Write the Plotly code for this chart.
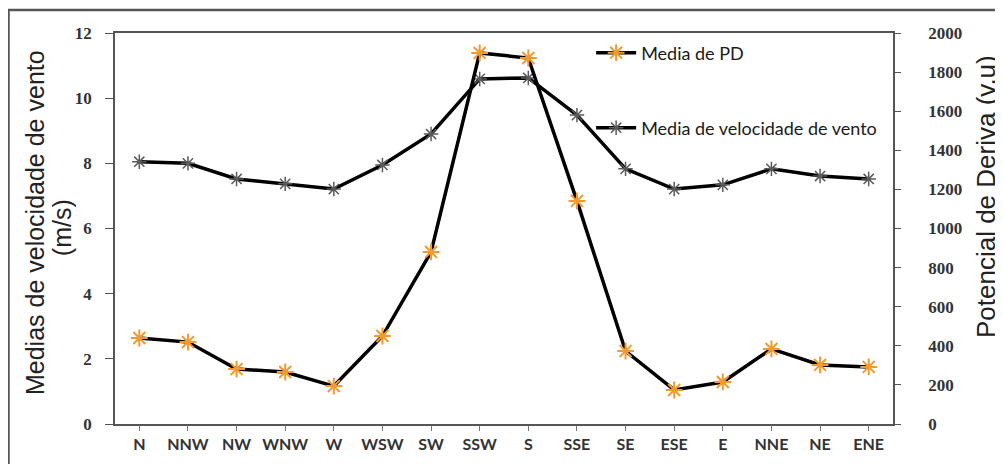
import plotly.graph_objects as go

directions = ["N", "NNW", "NW", "WNW", "W", "WSW", "SW", "SSW", "S",
              "SSE", "SE", "ESE", "E", "NNE", "NE", "ENE"]
wind_speed = [8.05, 8.0, 7.52, 7.37, 7.21, 7.95, 8.9, 10.59, 10.62,
              9.48, 7.83, 7.21, 7.34, 7.83, 7.61, 7.52]
drift_potential = [440, 419, 281, 266, 194, 450, 880, 1898, 1872,
                   1141, 373, 174, 215, 384, 302, 292]

y_ticks_left = [0, 2, 4, 6, 8, 10, 12]
y_ticks_right = [0, 200, 400, 600, 800, 1000, 1200, 1400, 1600, 1800, 2000]

fig = go.Figure()

fig.add_trace(go.Scatter(
    x=directions, y=drift_potential, yaxis="y2",
    name="Media de PD", mode="lines+markers",
    line=dict(color="black", width=3.5),
    marker=dict(symbol="asterisk-open", size=14, color="#F39A2E",
                line=dict(color="#F39A2E", width=2)),
    legend="legend",
))
fig.add_trace(go.Scatter(
    x=directions, y=wind_speed, yaxis="y",
    name="Media de velocidade de vento", mode="lines+markers",
    line=dict(color="black", width=3.5),
    marker=dict(symbol="asterisk-open", size=12, color="#5a5a5a",
                line=dict(color="#5a5a5a", width=1.5)),
    legend="legend2",
))

tick_font_num = dict(family="Liberation Serif", size=17, color="#333333", weight="bold")
title_font_l = dict(family="Liberation Sans", size=25, color="#222222")
title_font_r = dict(family="Liberation Sans", size=26, color="#222222")
legend_font = dict(family="Lato", size=18, color="#1a1a1a")

fig.update_layout(
    width=1003, height=464,
    margin=dict(l=107, r=118, t=25, b=48),
    paper_bgcolor="white", plot_bgcolor="white",
    showlegend=True,
    xaxis=dict(
        type="category", range=[-0.5, 15.5],
        showline=True, linecolor="#555555", linewidth=1.5, mirror=True,
        ticks="outside", ticklen=5, tickcolor="#777777",
        tickfont=dict(family="Lato", size=16, color="#333333", weight="bold"),
        showgrid=False, zeroline=False,
    ),
    yaxis=dict(
        range=[0, 12], tickvals=y_ticks_left,
        showline=True, linecolor="#555555", linewidth=1.5,
        ticks="outside", ticklen=8, tickcolor="#555555",
        tickfont=tick_font_num, ticklabelstandoff=10,
        showgrid=False, zeroline=False,
    ),
    yaxis2=dict(
        range=[0, 2000], tickvals=y_ticks_right, overlaying="y", side="right",
        showline=True, linecolor="#555555", linewidth=1.5,
        ticks="outside", ticklen=6, tickcolor="#555555",
        tickfont=tick_font_num, ticklabelstandoff=24,
        showgrid=False, zeroline=False,
    ),
    legend=dict(
        x=0.612, y=0.949, xanchor="left", yanchor="middle",
        bgcolor="rgba(0,0,0,0)", borderwidth=0,
        font=legend_font, itemwidth=40,
    ),
    legend2=dict(
        x=0.612, y=0.757, xanchor="left", yanchor="middle",
        bgcolor="rgba(0,0,0,0)", borderwidth=0,
        font=legend_font, itemwidth=40,
    ),
    annotations=[
        dict(text="Medias de velocidade de vento", xref="paper", yref="paper",
             x=-0.1028, y=0.514, xanchor="center", yanchor="middle",
             textangle=-90, showarrow=False, font=title_font_l),
        dict(text="(m/s)", xref="paper", yref="paper",
             x=-0.0681, y=0.501, xanchor="center", yanchor="middle",
             textangle=-90, showarrow=False, font=title_font_l),
        dict(text="Potencial de Deriva (v.u)", xref="paper", yref="paper",
             x=1.1195, y=0.583, xanchor="center", yanchor="middle",
             textangle=-90, showarrow=False, font=title_font_r),
    ],
    shapes=[dict(
        type="rect", xref="paper", yref="paper",
        x0=-0.1369, x1=1.25, y0=-0.25, y1=1.0588,
        line=dict(color="#555555", width=2.5), fillcolor="rgba(0,0,0,0)",
        layer="below",
    )],
)

fig.write_html("out.html")
